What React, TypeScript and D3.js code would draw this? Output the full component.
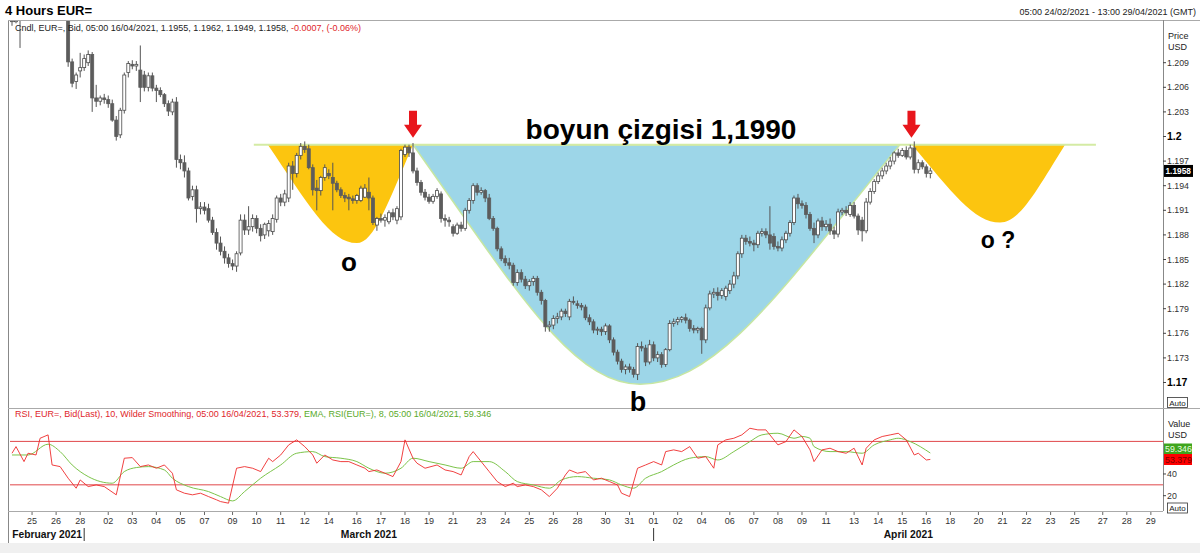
import React from 'react';
import * as d3 from 'd3';

// 4-hour bars, bar 0 = 05:00 24/02/2021 (one Sunday bar per weekend)
const opens = [
  1.2150, 1.2140, 1.2150, 1.2148, 1.2160, 1.2172, 1.2182, 1.2212, 1.2230, 1.2192,
  1.2170, 1.2176, 1.2162, 1.2158, 1.2155, 1.2091, 1.2067, 1.2080, 1.2084, 1.2090,
  1.2100, 1.2047, 1.2043, 1.2047, 1.2045, 1.2040, 1.2020, 1.2002, 1.2032, 1.2078,
  1.2088, 1.2086, 1.2081, 1.2075, 1.2060, 1.2074, 1.2059, 1.2056, 1.2051, 1.2040,
  1.2030, 1.2042, 1.1972, 1.1968, 1.1958, 1.1927, 1.1935, 1.1912, 1.1914, 1.1912,
  1.1898, 1.1883, 1.1870, 1.1860, 1.1852, 1.1845, 1.1842, 1.1858, 1.1898, 1.1886,
  1.1890, 1.1900, 1.1888, 1.1880, 1.1885, 1.1884, 1.1899, 1.1925, 1.1920, 1.1925,
  1.1964, 1.1955, 1.1977, 1.1988, 1.1985, 1.1962, 1.1937, 1.1934, 1.1950, 1.1955,
  1.1950, 1.1943, 1.1935, 1.1928, 1.1926, 1.1924, 1.1922, 1.1922, 1.1926, 1.1932,
  1.1925, 1.1892, 1.1900, 1.1898, 1.1896, 1.1907, 1.1898, 1.1902, 1.1978, 1.1987,
  1.1980, 1.1958, 1.1944, 1.1932, 1.1926, 1.1921, 1.1927, 1.1930, 1.1900, 1.1898,
  1.1890, 1.1882, 1.1892, 1.1888, 1.1910, 1.1922, 1.1940, 1.1932, 1.1934, 1.1925,
  1.1900, 1.1888, 1.1863, 1.1851, 1.1846, 1.1843, 1.1822, 1.1834, 1.1826, 1.1818,
  1.1823, 1.1827, 1.1810, 1.1800, 1.1768, 1.1770, 1.1778, 1.1780, 1.1787, 1.1780,
  1.1799, 1.1796, 1.1794, 1.1792, 1.1779, 1.1774, 1.1764, 1.1765, 1.1762, 1.1769,
  1.1752, 1.1737, 1.1726, 1.1716, 1.1719, 1.1716, 1.1710, 1.1744, 1.1742, 1.1725,
  1.1746, 1.1730, 1.1734, 1.1722, 1.1740, 1.1772, 1.1774, 1.1777, 1.1779, 1.1776,
  1.1766, 1.1764, 1.1766, 1.1752, 1.1791, 1.1808, 1.1810, 1.1806, 1.1805, 1.1812,
  1.1820, 1.1830, 1.1857, 1.1876, 1.1872, 1.1870, 1.1868, 1.1882, 1.1884, 1.1880,
  1.1878, 1.1866, 1.1864, 1.1874, 1.1882, 1.1895, 1.1925, 1.1918, 1.1916, 1.1905,
  1.1888, 1.1880, 1.1897, 1.1890, 1.1893, 1.1885, 1.1881, 1.1908, 1.1910, 1.1905,
  1.1916, 1.1903, 1.1898, 1.1885, 1.1920, 1.1933, 1.1945, 1.1952, 1.1958, 1.1964,
  1.1970, 1.1980, 1.1977, 1.1983, 1.1975, 1.1986, 1.1960, 1.1968, 1.1963, 1.1955,
];
const highs = [
  1.2160, 1.2155, 1.2162, 1.2165, 1.2178, 1.2188, 1.2218, 1.2243, 1.2236, 1.2200,
  1.2182, 1.2186, 1.2172, 1.2170, 1.2160, 1.2095, 1.2078, 1.2102, 1.2100, 1.2105,
  1.2103, 1.2063, 1.2050, 1.2052, 1.2050, 1.2045, 1.2025, 1.2035, 1.2078, 1.2092,
  1.2093, 1.2092, 1.2111, 1.2080, 1.2078, 1.2078, 1.2063, 1.2060, 1.2053, 1.2044,
  1.2046, 1.2048, 1.1978, 1.1977, 1.1962, 1.1940, 1.1940, 1.1920, 1.1920, 1.1918,
  1.1902, 1.1888, 1.1878, 1.1866, 1.1857, 1.1850, 1.1860, 1.1905, 1.1905, 1.1915,
  1.1905, 1.1904, 1.1893, 1.1895, 1.1898, 1.1905, 1.1928, 1.1930, 1.1935, 1.1968,
  1.1970, 1.1980, 1.1992, 1.1994, 1.1990, 1.1966, 1.1947, 1.1952, 1.1966, 1.1960,
  1.1968, 1.1946, 1.1938, 1.1932, 1.1930, 1.1928, 1.1930, 1.1940, 1.1942, 1.1950,
  1.1928, 1.1902, 1.1906, 1.1905, 1.1910, 1.1912, 1.1915, 1.1985, 1.1990, 1.1990,
  1.1992, 1.1962, 1.1947, 1.1936, 1.1930, 1.1930, 1.1937, 1.1933, 1.1905, 1.1902,
  1.1893, 1.1895, 1.1896, 1.1913, 1.1925, 1.1943, 1.1943, 1.1938, 1.1936, 1.1930,
  1.1903, 1.1890, 1.1866, 1.1855, 1.1852, 1.1846, 1.1838, 1.1838, 1.1830, 1.1826,
  1.1830, 1.1830, 1.1813, 1.1802, 1.1775, 1.1782, 1.1785, 1.1790, 1.1790, 1.1802,
  1.1805, 1.1800, 1.1797, 1.1795, 1.1783, 1.1777, 1.1768, 1.1768, 1.1772, 1.1771,
  1.1755, 1.1740, 1.1729, 1.1722, 1.1723, 1.1719, 1.1748, 1.1750, 1.1746, 1.1752,
  1.1750, 1.1738, 1.1737, 1.1742, 1.1776, 1.1778, 1.1780, 1.1781, 1.1784, 1.1778,
  1.1770, 1.1768, 1.1768, 1.1795, 1.1812, 1.1815, 1.1816, 1.1815, 1.1818, 1.1825,
  1.1835, 1.1860, 1.1880, 1.1880, 1.1878, 1.1874, 1.1885, 1.1888, 1.1888, 1.1915,
  1.1882, 1.1872, 1.1878, 1.1885, 1.1898, 1.1928, 1.1930, 1.1922, 1.1920, 1.1908,
  1.1895, 1.1900, 1.1902, 1.1898, 1.1900, 1.1890, 1.1912, 1.1913, 1.1915, 1.1920,
  1.1920, 1.1906, 1.1902, 1.1925, 1.1937, 1.1948, 1.1956, 1.1962, 1.1968, 1.1975,
  1.1982, 1.1985, 1.1986, 1.1988, 1.1990, 1.1994, 1.1972, 1.1971, 1.1966, 1.1962,
];
const lows = [
  1.2135, 1.2138, 1.2108, 1.2144, 1.2155, 1.2166, 1.2178, 1.2202, 1.2186, 1.2162,
  1.2165, 1.2156, 1.2150, 1.2150, 1.2085, 1.2060, 1.2058, 1.2072, 1.2080, 1.2086,
  1.2030, 1.2036, 1.2038, 1.2040, 1.2035, 1.2018, 1.1995, 1.1998, 1.2028, 1.2072,
  1.2082, 1.2080, 1.2042, 1.2055, 1.2055, 1.2055, 1.2042, 1.2048, 1.2036, 1.2025,
  1.2026, 1.1962, 1.1960, 1.1950, 1.1922, 1.1922, 1.1895, 1.1905, 1.1905, 1.1895,
  1.1880, 1.1862, 1.1855, 1.1845, 1.1840, 1.1837, 1.1835, 1.1855, 1.1880, 1.1880,
  1.1884, 1.1882, 1.1872, 1.1875, 1.1878, 1.1880, 1.1895, 1.1915, 1.1915, 1.1920,
  1.1935, 1.1950, 1.1972, 1.1980, 1.1960, 1.1928, 1.1910, 1.1928, 1.1946, 1.1948,
  1.1910, 1.1932, 1.1925, 1.1920, 1.1910, 1.1918, 1.1918, 1.1920, 1.1925, 1.1910,
  1.1892, 1.1885, 1.1895, 1.1890, 1.1893, 1.1898, 1.1893, 1.1898, 1.1975, 1.1975,
  1.1955, 1.1940, 1.1928, 1.1922, 1.1918, 1.1918, 1.1924, 1.1895, 1.1890, 1.1890,
  1.1878, 1.1880, 1.1884, 1.1885, 1.1906, 1.1918, 1.1928, 1.1929, 1.1920, 1.1898,
  1.1885, 1.1860, 1.1848, 1.1842, 1.1838, 1.1818, 1.1818, 1.1822, 1.1814, 1.1812,
  1.1818, 1.1806, 1.1795, 1.1762, 1.1762, 1.1765, 1.1772, 1.1776, 1.1780, 1.1776,
  1.1795, 1.1790, 1.1788, 1.1776, 1.1770, 1.1760, 1.1758, 1.1757, 1.1758, 1.1748,
  1.1733, 1.1722, 1.1712, 1.1710, 1.1712, 1.1706, 1.1703, 1.1738, 1.1720, 1.1722,
  1.1726, 1.1725, 1.1718, 1.1719, 1.1738, 1.1768, 1.1770, 1.1773, 1.1772, 1.1762,
  1.1760, 1.1760, 1.1735, 1.1748, 1.1788, 1.1803, 1.1800, 1.1802, 1.1800, 1.1808,
  1.1815, 1.1826, 1.1852, 1.1868, 1.1866, 1.1860, 1.1864, 1.1878, 1.1876, 1.1862,
  1.1862, 1.1860, 1.1860, 1.1870, 1.1878, 1.1892, 1.1912, 1.1912, 1.1900, 1.1885,
  1.1870, 1.1876, 1.1885, 1.1885, 1.1880, 1.1875, 1.1877, 1.1904, 1.1903, 1.1902,
  1.1900, 1.1880, 1.1872, 1.1882, 1.1917, 1.1930, 1.1942, 1.1948, 1.1954, 1.1960,
  1.1966, 1.1974, 1.1975, 1.1972, 1.1972, 1.1955, 1.1955, 1.1960, 1.1950, 1.1949,
];
const closes = [
  1.2140, 1.2150, 1.2148, 1.2160, 1.2172, 1.2182, 1.2212, 1.2230, 1.2192, 1.2170,
  1.2176, 1.2162, 1.2158, 1.2155, 1.2091, 1.2065, 1.2075, 1.2084, 1.2095, 1.2100,
  1.2047, 1.2043, 1.2047, 1.2045, 1.2040, 1.2020, 1.2000, 1.2032, 1.2075, 1.2089,
  1.2086, 1.2088, 1.2060, 1.2060, 1.2074, 1.2059, 1.2056, 1.2051, 1.2040, 1.2031,
  1.2042, 1.1972, 1.1968, 1.1958, 1.1925, 1.1935, 1.1912, 1.1914, 1.1910, 1.1898,
  1.1883, 1.1870, 1.1860, 1.1852, 1.1845, 1.1842, 1.1857, 1.1898, 1.1886, 1.1890,
  1.1900, 1.1888, 1.1879, 1.1893, 1.1894, 1.1900, 1.1925, 1.1920, 1.1930, 1.1964,
  1.1955, 1.1977, 1.1988, 1.1984, 1.1962, 1.1935, 1.1934, 1.1950, 1.1962, 1.1952,
  1.1943, 1.1935, 1.1928, 1.1925, 1.1924, 1.1922, 1.1928, 1.1937, 1.1937, 1.1925,
  1.1895, 1.1900, 1.1898, 1.1901, 1.1907, 1.1902, 1.1912, 1.1983, 1.1987, 1.1980,
  1.1958, 1.1944, 1.1932, 1.1926, 1.1921, 1.1927, 1.1934, 1.1900, 1.1898, 1.1896,
  1.1882, 1.1892, 1.1888, 1.1910, 1.1922, 1.1940, 1.1932, 1.1934, 1.1925, 1.1900,
  1.1888, 1.1863, 1.1851, 1.1846, 1.1843, 1.1822, 1.1834, 1.1826, 1.1818, 1.1823,
  1.1827, 1.1810, 1.1800, 1.1768, 1.1770, 1.1778, 1.1780, 1.1787, 1.1784, 1.1799,
  1.1798, 1.1794, 1.1792, 1.1779, 1.1774, 1.1764, 1.1765, 1.1762, 1.1769, 1.1752,
  1.1737, 1.1726, 1.1716, 1.1719, 1.1716, 1.1710, 1.1744, 1.1742, 1.1725, 1.1746,
  1.1730, 1.1734, 1.1722, 1.1740, 1.1772, 1.1774, 1.1777, 1.1779, 1.1776, 1.1766,
  1.1764, 1.1766, 1.1752, 1.1791, 1.1808, 1.1810, 1.1806, 1.1812, 1.1815, 1.1820,
  1.1830, 1.1857, 1.1876, 1.1872, 1.1870, 1.1868, 1.1882, 1.1884, 1.1880, 1.1870,
  1.1866, 1.1864, 1.1874, 1.1882, 1.1895, 1.1925, 1.1918, 1.1916, 1.1905, 1.1888,
  1.1880, 1.1897, 1.1890, 1.1893, 1.1885, 1.1881, 1.1908, 1.1910, 1.1907, 1.1916,
  1.1903, 1.1886, 1.1885, 1.1920, 1.1933, 1.1945, 1.1952, 1.1958, 1.1964, 1.1970,
  1.1980, 1.1977, 1.1983, 1.1975, 1.1986, 1.1960, 1.1968, 1.1963, 1.1955, 1.1958,
];

// RSI(10) and its EMA(8)
const rsiBars = [
  0, 1, 3, 4, 6, 7, 9, 10, 12, 14, 16, 17, 19, 21, 23, 26, 28, 30, 32, 34,
  36, 38, 40, 41, 43, 45, 47, 49, 51, 52, 54, 56, 58, 60, 62, 64, 65, 67, 69, 71,
  73, 75, 76, 78, 80, 82, 84, 86, 88, 89, 91, 93, 95, 97, 98, 100, 101, 103, 106, 108,
  110, 112, 114, 115, 117, 119, 121, 123, 125, 126, 128, 130, 132, 134, 136, 138, 139, 141, 143, 145,
  147, 149, 151, 152, 154, 156, 158, 160, 162, 163, 165, 167, 169, 171, 173, 175, 176, 178, 180, 182,
  184, 186, 188, 189, 191, 193, 195, 197, 199, 200, 202, 204, 206, 208, 210, 212, 213, 215, 217, 219,
  221, 223, 225, 226, 228, 229,
];
const rsiValues = [
  59.1, 65.2, 51.4, 59.1, 57.5, 72.9, 76.0, 48.3, 46.8, 36.1, 26.9, 34.5, 28.4, 29.9, 28.4, 20.8, 54.5, 55.1, 46.8, 48.3,
  45.3, 48.3, 40.7, 25.4, 22.3, 20.8, 22.3, 19.2, 16.2, 14.6, 13.1, 45.3, 46.8, 45.3, 42.2, 54.5, 51.4, 57.5, 66.8, 71.4,
  65.2, 57.5, 49.9, 57.5, 52.9, 51.4, 51.4, 48.3, 45.3, 42.2, 43.7, 40.7, 37.6, 51.4, 71.4, 54.5, 49.9, 45.3, 48.3, 43.7,
  42.2, 39.1, 56.0, 60.6, 51.4, 42.2, 33.0, 28.4, 31.5, 28.4, 29.9, 28.4, 25.4, 19.2, 26.9, 39.1, 43.7, 40.7, 42.2, 34.5,
  36.1, 33.0, 29.9, 22.3, 19.2, 45.3, 48.3, 51.4, 48.3, 60.6, 62.2, 60.6, 65.2, 54.5, 56.0, 45.3, 66.8, 71.4, 72.9, 76.0,
  82.1, 80.6, 80.6, 76.0, 66.8, 69.8, 80.6, 74.5, 62.2, 51.4, 62.2, 63.7, 60.6, 59.1, 63.7, 48.3, 63.7, 71.4, 74.5, 76.0,
  77.5, 71.4, 57.5, 59.1, 52.9, 53.4,
];
const emaBars = [
  0, 4, 9, 12, 15, 19, 25, 28, 31, 34, 38, 40, 44, 49, 52, 55, 58, 62, 67, 71,
  75, 78, 82, 86, 89, 93, 97, 100, 104, 108, 112, 115, 119, 123, 126, 130, 134, 137, 141, 145,
  149, 152, 155, 158, 162, 165, 169, 173, 176, 180, 184, 187, 191, 195, 197, 199, 200, 204, 208, 212,
  215, 219, 221, 224, 229,
];
const emaValues = [
  57.5, 57.5, 67.4, 60.6, 48.3, 37.6, 31.5, 42.2, 45.9, 46.8, 43.7, 36.1, 28.4, 23.8, 19.2, 15.2, 23.8, 36.1, 48.3, 59.1,
  60.6, 56.0, 54.5, 51.4, 45.3, 40.7, 45.3, 54.5, 51.4, 48.3, 45.3, 51.4, 51.4, 42.2, 33.0, 29.9, 26.9, 34.5, 37.6, 36.1,
  34.5, 29.9, 26.9, 36.1, 42.2, 48.3, 54.5, 56.0, 52.9, 60.6, 69.8, 76.0, 77.5, 72.9, 74.5, 72.9, 65.2, 60.6, 60.6, 59.1,
  66.8, 71.4, 72.9, 69.8, 59.3,
];
const lastRsi = '53.379';
const lastEma = '59.346';

const priceTicks = [1.209, 1.206, 1.203, 1.2, 1.197, 1.194, 1.191, 1.188, 1.185, 1.182, 1.179, 1.176, 1.173, 1.17];
const boldPriceTicks = [1.2, 1.17];
const rsiTicks = [40, 20];
const rsiLevels = [70, 30];

const dayLabels = [
  '25', '26', '28', '02', '03', '04', '05', '07', '09', '10', '11', '12', '14', '16', '17', '18', '19', '21', '23', '24',
  '25', '26', '28', '30', '31', '01', '02', '04', '06', '07', '08', '09', '11', '13', '14', '15', '16', '18', '20', '21',
  '22', '23', '25', '27', '28', '29',
];
const dayBars = [
  5, 11, 17, 24, 30, 36, 42, 48, 55, 61, 67, 73, 79, 86, 92, 98, 104, 110, 117, 123,
  129, 135, 141, 148, 154, 160, 166, 172, 179, 185, 191, 197, 203, 210, 216, 222, 228, 234, 241, 247,
  253, 259, 265, 272, 278, 284,
];
const monthLabels = ['February 2021', 'March 2021', 'April 2021'];
const monthStartBars = [-0.5, 18, 160];
const lastBar = 287;

// hand-drawn pattern annotations (bar index / price)
const neckline = 1.199;
const necklineFrom = 60.3;
const necklineTo = 270.3;
const bowlStart = [63.8, 100, 224.4];
const bowlBottomBar = [86, 156.6, 246.4];
const bowlEnd = [100, 221.4, 262.6];
const bowlLow = [1.187, 1.1698, 1.1895];
const bowlLabels = ['o', 'b', 'o ?'];
const arrowBars = [100, 224.3];

const FONT = 'Liberation Sans, Arial, sans-serif';

export default function App() {
  const left = 10;
  const right = 1163;
  const mainTop = 20;
  const mainBottom = 408;
  const rsiBottom = 511;

  const x = d3.scaleLinear().domain([0, lastBar]).range([12, 1162.9]);
  const y = d3.scaleLinear().domain([1.17, 1.2]).range([382.5, 136.5]);
  const yr = d3.scaleLinear().domain([20, 70]).range([495.7, 441.4]);

  const rsiLine = d3.line<number>()
    .x((_, i) => x(rsiBars[i]))
    .y((d) => yr(d));
  const emaLine = d3.line<number>()
    .x((_, i) => x(emaBars[i]))
    .y((d) => yr(d))
    .curve(d3.curveMonotoneX);

  const bowlPath = (k: number) => {
    const x0 = x(bowlStart[k]);
    const xb = x(bowlBottomBar[k]);
    const x1 = x(bowlEnd[k]);
    const yn = y(neckline);
    const yb = y(bowlLow[k]);
    const p = d3.path();
    p.moveTo(x0, yn);
    p.bezierCurveTo(x0 + 0.45 * (xb - x0), yn + 0.6 * (yb - yn), xb - 0.3 * (xb - x0), yb, xb, yb);
    p.bezierCurveTo(xb + 0.3 * (x1 - xb), yb, x1 - 0.45 * (x1 - xb), yn + 0.6 * (yb - yn), x1, yn);
    p.closePath();
    return p.toString();
  };
  const bowlFill = ['#fcc50f', '#9dd6e8', '#fcc50f'];
  const labelSize = [26, 27, 23];
  const labelDy = [28, 27, 25];
  const labelDx = [-8, -2, -2];

  const arrow = (bx: number) => {
    const cx = x(bx);
    const tip = y(neckline) - 7;
    return `M${cx - 4},${tip - 27} L${cx + 4},${tip - 27} L${cx + 4},${tip - 13} L${cx + 9},${tip - 13} L${cx},${tip} L${cx - 9},${tip - 13} L${cx - 4},${tip - 13} Z`;
  };

  const last = closes[closes.length - 1];

  return (
    <svg width={1200} height={553} style={{ display: 'block', position: 'absolute', left: 0, top: 0 }} fontFamily={FONT}>
      <rect width={1200} height={553} fill="#fff" />
      <rect x={0} y={543} width={1200} height={10} fill="#f0f0f0" />

      <text x={5} y={15} fontSize={13} fontWeight="bold" fill="#000">4 Hours EUR=</text>
      <text x={1196} y={15} fontSize={9} textAnchor="end" fill="#222">05:00 24/02/2021 - 13:00 29/04/2021 (GMT)</text>

      <defs>
        <clipPath id="mainClip">
          <rect x={left} y={mainTop} width={right - left} height={mainBottom - mainTop} />
        </clipPath>
        <clipPath id="rsiClip">
          <rect x={left} y={mainBottom} width={right - left} height={rsiBottom - mainBottom} />
        </clipPath>
      </defs>

      {/* pattern shapes */}
      <g clipPath="url(#mainClip)">
        {bowlStart.map((_, k) => (
          <path key={k} d={bowlPath(k)} fill={bowlFill[k]}
            stroke={k === 1 ? '#c6e6a2' : 'none'} strokeWidth={1.5} />
        ))}
        <line x1={x(necklineFrom)} x2={x(necklineTo)} y1={y(neckline)} y2={y(neckline)}
          stroke="#d4eba4" strokeWidth={2} />

        {/* candles */}
        {closes.map((c, i) => {
          const o = opens[i];
          const up = c >= o;
          const cx = x(i);
          const top = y(Math.max(o, c));
          const h = Math.max(1, Math.abs(y(o) - y(c)));
          return (
            <g key={i}>
              <line x1={cx} x2={cx} y1={y(highs[i])} y2={y(lows[i])} stroke="#555" strokeWidth={1} />
              <rect x={cx - 1.5} y={top} width={3} height={h}
                fill={up ? '#fff' : '#5c5c5c'} stroke={up ? '#4a4a4a' : '#5c5c5c'} strokeWidth={0.8} />
            </g>
          );
        })}
      </g>

      {/* legend main */}
      <text x={15} y={31} fontSize={9} fill="#222">
        Cndl, EUR=, Bid, 05:00 16/04/2021, 1.1955, 1.1962, 1.1949, 1.1958, <tspan fill="#e0262b">-0.0007, (-0.06%)</tspan>
      </text>

      {/* RSI panel */}
      <g clipPath="url(#rsiClip)">
        {rsiLevels.map((v) => (
          <line key={v} x1={left} x2={right} y1={yr(v)} y2={yr(v)} stroke="#e0474a" strokeWidth={1} />
        ))}
        <path d={emaLine(emaValues) || ''} fill="none" stroke="#7cc44a" strokeWidth={1} />
        <path d={rsiLine(rsiValues) || ''} fill="none" stroke="#ee2b2b" strokeWidth={0.9} />
      </g>
      <text x={15} y={417} fontSize={9} fill="#e0262b">
        RSI, EUR=, Bid(Last),  10, Wilder Smoothing, 05:00 16/04/2021, {lastRsi}, <tspan fill="#5aaa2a">EMA, RSI(EUR=),  8, 05:00 16/04/2021, {lastEma}</tspan>
      </text>

      {/* frames */}
      <line x1={8.5} x2={8.5} y1={20} y2={543} stroke="#888" />
      <line x1={8} x2={1200} y1={20.5} y2={20.5} stroke="#aaa" />
      <line x1={right + 0.5} x2={right + 0.5} y1={20} y2={rsiBottom} stroke="#888" />
      <line x1={8} x2={1200} y1={mainBottom + 0.5} y2={mainBottom + 0.5} stroke="#aaa" />
      <line x1={8} x2={right} y1={rsiBottom + 0.5} y2={rsiBottom + 0.5} stroke="#aaa" />

      {/* annotations drawn on top */}
      {arrowBars.map((b, i) => (
        <path key={i} d={arrow(b)} fill="#e8161c" />
      ))}
      <text x={661} y={139} fontSize={28} fontWeight="bold" textAnchor="middle" fill="#000">boyun çizgisi 1,1990</text>
      {bowlLabels.map((t, k) => (
        <text key={k} x={x(bowlBottomBar[k]) + labelDx[k]} y={y(bowlLow[k]) + labelDy[k]}
          fontSize={labelSize[k]} fontWeight="bold" textAnchor="middle" fill="#000">{t}</text>
      ))}

      {/* price axis */}
      <text x={1168} y={39} fontSize={9} fill="#222">Price</text>
      <text x={1168} y={50} fontSize={9} fill="#222">USD</text>
      {priceTicks.map((t) => {
        const bold = boldPriceTicks.includes(t);
        return (
          <g key={t}>
            <line x1={right} x2={right + 3} y1={y(t)} y2={y(t)} stroke="#444" />
            <text x={right + 4} y={y(t) + 3} fontSize={bold ? 10.5 : 8.8} fontWeight={bold ? 'bold' : 'normal'}
              fill={bold ? '#000' : '#333'}>{+t.toFixed(3)}</text>
          </g>
        );
      })}
      <rect x={right + 1} y={y(last) - 6} width={29} height={12} fill="#000" />
      <text x={right + 2.5} y={y(last) + 3.5} fontSize={8.3} fontWeight="bold" fill="#fff">{last.toFixed(4)}</text>
      <rect x={1167.5} y={397.5} width={20} height={10} fill="#fff" stroke="#333" strokeWidth={0.8} />
      <text x={1177.5} y={405.5} fontSize={8} textAnchor="middle" fill="#222">Auto</text>

      {/* RSI axis */}
      <text x={1168} y={427} fontSize={9} fill="#222">Value</text>
      <text x={1168} y={438} fontSize={9} fill="#222">USD</text>
      <rect x={right + 1} y={443.5} width={28} height={11} fill="#3fa51d" />
      <text x={right + 2} y={452} fontSize={8.8} fill="#e8ffe0">{lastEma}</text>
      <rect x={right + 1} y={454} width={28} height={11} fill="#f00" />
      <text x={right + 2} y={462.5} fontSize={8.8} fill="#7a0000">{lastRsi}</text>
      {rsiTicks.map((t) => (
        <g key={t}>
          <line x1={right} x2={right + 3} y1={yr(t)} y2={yr(t)} stroke="#444" />
          <text x={right + 4} y={yr(t) + 3} fontSize={8.8} fill="#333">{t}</text>
        </g>
      ))}
      <rect x={1167.5} y={503} width={20} height={10} fill="#fff" stroke="#333" strokeWidth={0.8} />
      <text x={1177.5} y={511} fontSize={8} textAnchor="middle" fill="#222">Auto</text>

      {/* time axis */}
      {dayBars.map((b, i) => (
        <g key={i}>
          <line x1={x(b)} x2={x(b)} y1={rsiBottom + 1} y2={rsiBottom + 4} stroke="#666" />
          <text x={x(b)} y={524} fontSize={9} textAnchor="middle" fill="#333">{dayLabels[i]}</text>
        </g>
      ))}
      {monthLabels.map((m, i) => {
        const a = i === 0 ? left : x(monthStartBars[i]);
        const b = i < monthLabels.length - 1 ? x(monthStartBars[i + 1]) : right;
        return (
          <g key={m}>
            {i > 0 && <line x1={a} x2={a} y1={528} y2={541} stroke="#333" />}
            <text x={(a + b) / 2} y={538} fontSize={10.3} fontWeight="bold" textAnchor="middle" fill="#111">{m}</text>
          </g>
        );
      })}
    </svg>
  );
}
